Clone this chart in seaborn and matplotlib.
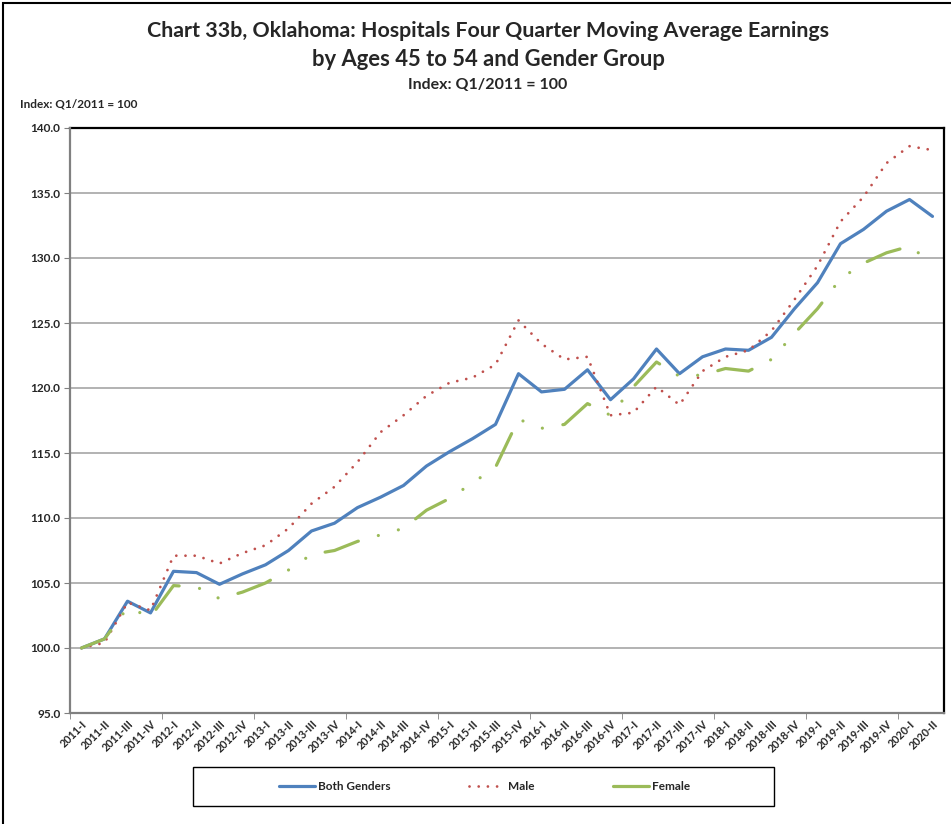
import numpy as np
import pandas as pd
import matplotlib
matplotlib.use('Agg')
import matplotlib.pyplot as plt
import seaborn as sns
from matplotlib.patches import Rectangle
from matplotlib.lines import Line2D

quarters = ['2011-I', '2011-II', '2011-III', '2011-IV',
            '2012-I', '2012-II', '2012-III', '2012-IV',
            '2013-I', '2013-II', '2013-III', '2013-IV',
            '2014-I', '2014-II', '2014-III', '2014-IV',
            '2015-I', '2015-II', '2015-III', '2015-IV',
            '2016-I', '2016-II', '2016-III', '2016-IV',
            '2017-I', '2017-II', '2017-III', '2017-IV',
            '2018-I', '2018-II', '2018-III', '2018-IV',
            '2019-I', '2019-II', '2019-III', '2019-IV',
            '2020-I', '2020-II']

both = [100.0, 100.7, 103.6, 102.7, 105.9, 105.8, 104.9, 105.7, 106.4, 107.5,
        109.0, 109.6, 110.8, 111.6, 112.5, 114.0, 115.1, 116.1, 117.2, 121.1,
        119.7, 119.9, 121.4, 119.1, 120.7, 123.0, 121.1, 122.4, 123.0, 122.9,
        123.9, 126.1, 128.1, 131.1, 132.2, 133.6, 134.5, 133.2]

male = [100.0, 100.4, 103.5, 102.9, 107.1, 107.1, 106.5, 107.3, 107.9, 109.2,
        111.1, 112.4, 114.3, 116.6, 117.9, 119.4, 120.4, 120.8, 121.8, 125.2,
        123.4, 122.2, 122.4, 117.9, 118.1, 120.1, 118.7, 121.3, 122.4, 122.9,
        124.4, 126.8, 129.4, 132.8, 134.7, 137.3, 138.6, 138.3]

female = [100.0, 100.7, 103.1, 102.4, 104.8, 104.7, 103.8, 104.3, 105.0, 106.0,
          107.2, 107.5, 108.2, 108.7, 109.2, 110.6, 111.5, 112.7, 113.9, 117.6,
          116.9, 117.2, 118.8, 117.9, 120.1, 122.0, 120.9, 121.0, 121.5, 121.3,
          122.2, 124.2, 126.1, 128.4, 129.6, 130.4, 130.9, 129.6]

sns.set_style('white')
plt.rcParams['font.family'] = ['Lato', 'DejaVu Sans']
plt.rcParams['font.weight'] = 'bold'

pos = np.arange(len(quarters))
df = pd.DataFrame({'pos': pos, 'both': both, 'male': male, 'female': female})

fig = plt.figure(figsize=(9.51, 8.24), dpi=100)
ax = fig.add_axes([70/951, 1-713/824, 874/951, 585/824])

blue, red, green = '#4F81BD', '#C0504D', '#9BBB59'
sns.lineplot(data=df, x='pos', y='both', ax=ax, color=blue, lw=2.3,
             solid_joinstyle='round')
sns.lineplot(data=df, x='pos', y='male', ax=ax, color=red, lw=2.0,
             linestyle=(0, (0.01, 3.3)), dash_capstyle='round')
sns.lineplot(data=df, x='pos', y='female', ax=ax, color=green, lw=2.3,
             linestyle=(0, (11, 6.5, 0.01, 6.5, 0.01, 6.5)),
             dash_capstyle='round')

ax.set_ylim(95, 140)
ax.set_yticks(np.arange(95, 140.1, 5))
ax.set_yticklabels(['%.1f' % v for v in np.arange(95, 140.1, 5)], fontsize=8.5, fontweight='bold')
ax.set_xlim(-0.5, len(quarters) - 0.5)
ax.set_xticks(pos)
ax.set_xticklabels(quarters, rotation=45, ha='right', rotation_mode='anchor',
                   fontsize=7.8, fontweight='bold')
ax.tick_params(axis='x', length=0, pad=4)
ax.tick_params(axis='y', length=4, color='#808080', pad=3, direction='out', left=True)
ax.set_xticks(np.arange(-0.5, len(quarters), 4), minor=True)
ax.tick_params(axis='x', which='minor', length=4, color='#808080', bottom=True)
ax.set_xlabel('')
ax.set_ylabel('')
ax.grid(axis='y', color='#A6A6A6', lw=1.2)
ax.grid(axis='x', visible=False)
ax.set_axisbelow(True)
for s in ['top', 'right']:
    ax.spines[s].set_color('black')
    ax.spines[s].set_linewidth(1.6)
for s in ['left', 'bottom']:
    ax.spines[s].set_color('#808080')
    ax.spines[s].set_linewidth(1.6)
    ax.spines[s].set_zorder(5)

# legend: proxy handles, box drawn separately
handles = [Line2D([], [], color=blue, lw=2.3),
           Line2D([], [], color=red, lw=2.0, linestyle=(0, (0.01, 3.3)), dash_capstyle='round'),
           Line2D([], [], color=green, lw=2.3)]
labels = ['Both Genders', 'Male', 'Female']
fig.legend(handles, labels, loc='center', ncol=3,
           bbox_to_anchor=(484.5/951, 1-786.5/824),
           frameon=False, prop={'size': 8.5, 'weight': 'bold'},
           handlelength=3.1, handletextpad=0.25, columnspacing=6.6)
fig.patches.append(Rectangle((193/951, 1-806/824), 581/951, 39/824, transform=fig.transFigure,
                             fill=False, edgecolor='black', lw=1.0))

tx = 488/951
fig.text(tx, 1-31/824, 'Chart 33b, Oklahoma: Hospitals Four Quarter Moving Average Earnings',
         ha='center', va='center', fontsize=15.4, fontweight='bold')
fig.text(tx, 1-60/824, 'by Ages 45 to 54 and Gender Group',
         ha='center', va='center', fontsize=15.8, fontweight='bold')
fig.text(tx, 1-85/824, 'Index: Q1/2011 = 100',
         ha='center', va='center', fontsize=11.5, fontweight='bold')
fig.text(20/951, 1-104/824, 'Index: Q1/2011 = 100',
         ha='left', va='center', fontsize=8.5, fontweight='bold')

fig.patches.append(Rectangle((3/951, -0.05), 1.1, 1 - 3/824 + 0.05, transform=fig.transFigure,
                             fill=False, edgecolor='black', lw=1.5))

fig.savefig('out.png', dpi=100)
